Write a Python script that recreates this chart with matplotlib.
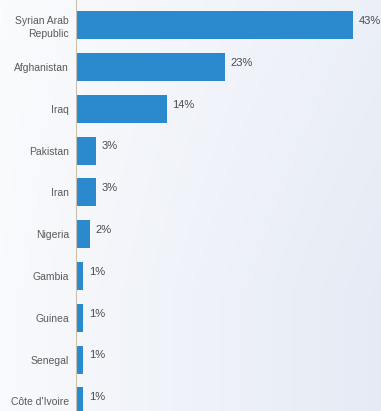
import matplotlib.pyplot as plt
import numpy as np

countries = ['Syrian Arab\nRepublic', 'Afghanistan', 'Iraq', 'Pakistan', 'Iran',
             'Nigeria', 'Gambia', 'Guinea', 'Senegal', "Côte d'Ivoire"]
shares = [43, 23, 14, 3, 3, 2, 1, 1, 1, 1]

plt.rcParams['font.family'] = ['Liberation Sans', 'DejaVu Sans']

fig = plt.figure(figsize=(3.81, 4.11), dpi=100)

# soft background wash, white on the left fading to pale blue-grey
bg = fig.add_axes([0, 0, 1, 1], zorder=0)
gx, gy = np.meshgrid(np.linspace(0, 1, 200), np.linspace(0, 1, 200))
t = np.clip(0.25 + 0.75 * gx, 0, 1) * np.clip(0.75 + 0.35 * gy, 0, 1)
t = np.clip(t, 0, 1)
c0 = np.array([1.0, 1.0, 1.0])
c1 = np.array([0.90, 0.92, 0.96])
img = c0 + (c1 - c0) * t[..., None]
bg.imshow(img, extent=[0, 1, 0, 1], aspect='auto', origin='upper')
bg.axis('off')

ax = fig.add_axes([76 / 381, 0, 1 - 76 / 381, 1], zorder=1)
ax.patch.set_alpha(0)
pos = np.arange(len(countries))
ax.barh(pos, shares, height=0.67, color='#2a8acd', left=0.1)
ax.set_xlim(0, 47.4)
ax.set_ylim(9.23, -0.6)

for p, v in zip(pos, shares):
    ax.annotate(f'{v}%', (v + 0.1, p), xytext=(4, 3), textcoords='offset points',
                va='center', ha='left', fontsize=8, color='#4a4a4a')

ax.set_yticks(pos)
ax.set_yticklabels(countries, fontsize=7.5, color='#5a5a5a', linespacing=1.35)
ax.tick_params(axis='y', length=0, pad=5)
ax.set_xticks([])
for s in ['top', 'right', 'bottom']:
    ax.spines[s].set_visible(False)
ax.spines['left'].set_color('#c9c2b4')
ax.spines['left'].set_linewidth(0.8)

fig.savefig('out.png', dpi=100)
